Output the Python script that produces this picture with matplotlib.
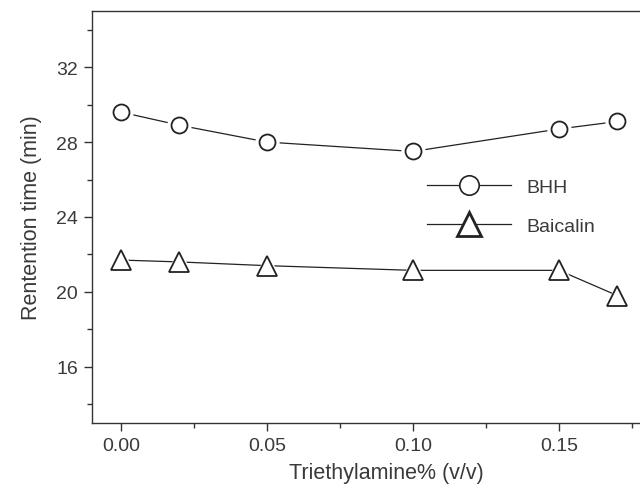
import numpy as np
import matplotlib.pyplot as plt
from matplotlib.ticker import MultipleLocator

plt.rcParams['font.family'] = ['Liberation Sans', 'DejaVu Sans']

### --- data --- ###
tea = [0.00, 0.02, 0.05, 0.10, 0.15, 0.17]
bhh = [29.6, 28.9, 28.0, 27.5, 28.7, 29.1]
baicalin = [21.7, 21.6, 21.4, 21.15, 21.15, 19.8]

txt = '#3a3a3a'

fig = plt.figure(figsize=(6.4, 4.85), dpi=100)
# the original plot frame runs past the right edge of the picture
ax = fig.add_axes([0.1438, 0.1258, 0.9187, 0.8495])

# white halo under each marker so the line stops short of it
for y, m, ms in [(bhh, 'o', 11.5), (baicalin, '^', 14.0)]:
    ax.plot(tea, y, color='#222222', lw=0.9, zorder=2)
    ax.plot(tea, y, ls='none', marker=m, ms=ms + 5, mfc='white', mec='white', zorder=3)
    ax.plot(tea, y, ls='none', marker=m, ms=ms, mfc='white', mec='#222222', mew=1.3, zorder=4)

# legend handles
hb, = ax.plot([], [], color='#222222', lw=0.9, marker='o', ms=14, mfc='white', mec='#222222', mew=1.2, label='BHH')
ht, = ax.plot([], [], color='#222222', lw=0.9, marker='^', ms=17, mfc='white', mec='#222222', mew=2.0, label='Baicalin')
leg = ax.legend(handles=[hb, ht], loc='center left', bbox_to_anchor=(0.5697, 0.525), frameon=False,
                borderpad=0, borderaxespad=0, handlelength=4.3, handletextpad=0.8,
                labelspacing=1.08, fontsize=14)
for t in leg.get_texts():
    t.set_color(txt)

ax.set_xlim(-0.0099, 0.1914)
ax.set_ylim(13, 35)
ax.set_xticks([0.00, 0.05, 0.10, 0.15])
ax.set_xticklabels(['0.00', '0.05', '0.10', '0.15'])
ax.xaxis.set_minor_locator(MultipleLocator(0.025))
ax.set_yticks([16, 20, 24, 28, 32])
ax.yaxis.set_minor_locator(MultipleLocator(2))

for s in ['left', 'bottom', 'top', 'right']:
    ax.spines[s].set_linewidth(1.0)
    ax.spines[s].set_color('#333333')
ax.tick_params(which='major', direction='out', length=6, width=1.0, color='#333333',
               labelsize=14, labelcolor=txt, pad=4)
ax.tick_params(which='minor', direction='out', length=3.5, width=1.0, color='#333333')
ax.tick_params(axis='x', which='both', top=False)
ax.tick_params(axis='y', which='both', right=False)

ax.set_xlabel('Triethylamine% (v/v)', fontsize=15.5, color=txt, labelpad=6)
ax.set_ylabel('Rentention time (min)', fontsize=15.5, color=txt, labelpad=10)

fig.savefig('out.png', dpi=100)
